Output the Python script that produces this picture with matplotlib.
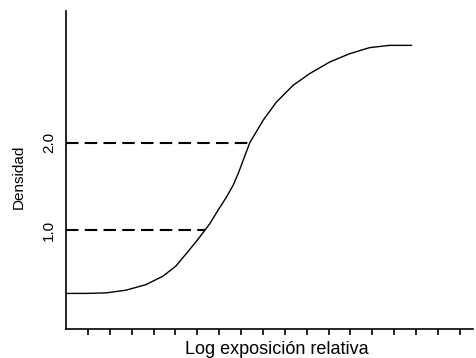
import matplotlib
matplotlib.use("Agg")
import matplotlib.pyplot as plt

plt.rcParams['font.family'] = ['Liberation Sans', 'DejaVu Sans']

# Characteristic curve
log_exp = [0.0, 0.91, 1.83, 2.74, 3.65, 4.43, 5.02, 5.57, 5.98, 6.35, 6.58,
           6.95, 7.34, 7.64, 7.87, 8.10, 8.40, 9.01, 9.62, 10.38, 11.14,
           12.05, 12.97, 13.88, 14.79, 15.79]
density = [0.277, 0.277, 0.283, 0.314, 0.377, 0.474, 0.589, 0.754, 0.880,
           1.00, 1.077, 1.229, 1.381, 1.514, 1.648, 1.80, 2.00, 2.257, 2.466,
           2.657, 2.791, 2.923, 3.019, 3.088, 3.114, 3.114]

# reference densities and where they meet the curve
ref_density = [1.0, 2.0]
ref_exp = [6.35, 8.40]
ytick_labels = ["1.0", "2.0"]
xticks = list(range(1, 19))

fig = plt.figure(figsize=(4.77, 3.58), dpi=100)
ax = fig.add_axes([0.1384, 0.081, 0.853, 0.889])

ax.plot(log_exp, density, color="black", lw=1.0)
for yd, xd in zip(ref_density, ref_exp):
    ax.plot([0, xd], [yd, yd], color="black", lw=1.5, dashes=(6, 3))

ax.set_xlim(0, 18.6)
ax.set_ylim(-0.13, 3.51)

ax.spines['top'].set_visible(False)
ax.spines['right'].set_visible(False)
ax.spines['left'].set_linewidth(1.2)
ax.spines['bottom'].set_linewidth(1.2)

ax.set_xticks(xticks)
ax.set_xticklabels([])
ax.tick_params(axis='x', direction='out', length=4.5, width=1.2)

ax.set_yticks(ref_density)
ax.set_yticklabels(ytick_labels, rotation=90, va='center', fontsize=11)
ax.tick_params(axis='y', length=0, pad=7)

ax.set_xlabel("Log exposición relativa", fontsize=13)
ax.xaxis.label.set_va('baseline')
ax.xaxis.set_label_coords(0.518, -0.079)
ax.set_ylabel("Densidad", fontsize=11)
ax.yaxis.set_label_coords(-0.098, 0.478)

fig.savefig("out.png", dpi=100)
